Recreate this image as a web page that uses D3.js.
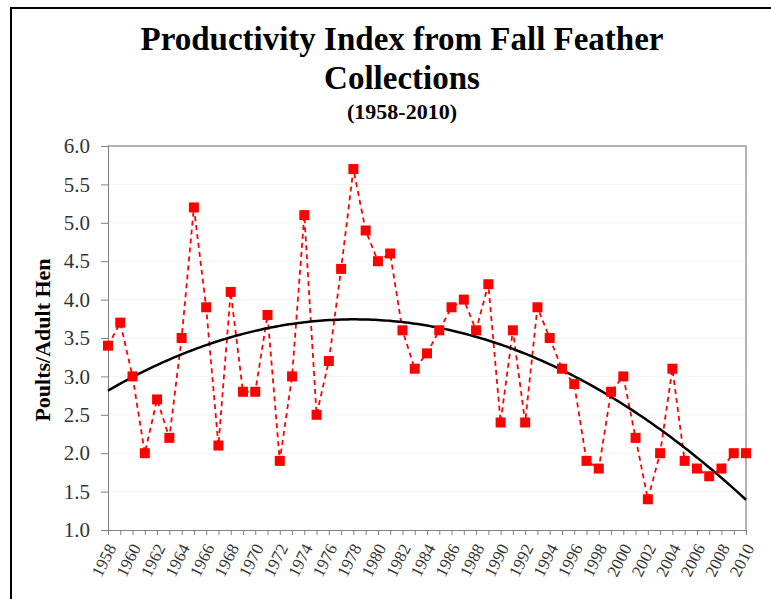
<!DOCTYPE html>
<html>
<head>
<meta charset="utf-8">
<script src="https://cdn.jsdelivr.net/npm/d3@7"></script>
<style>
  html, body { margin: 0; padding: 0; background: #fff; }
  svg { display: block; }
</style>
</head>
<body>
<div id="chart"></div>
<script>
!(function () {
  // - - - - - - - - - -

  // data
  const years = d3.range(1958, 2011);
  const productivity = [
    3.4, 3.7, 3.0, 2.0, 2.7, 2.2, 3.5, 5.2, 3.9, 2.1,
    4.1, 2.8, 2.8, 3.8, 1.9, 3.0, 5.1, 2.5, 3.2, 4.4,
    5.7, 4.9, 4.5, 4.6, 3.6, 3.1, 3.3, 3.6, 3.9, 4.0,
    3.6, 4.2, 2.4, 3.6, 2.4, 3.9, 3.5, 3.1, 2.9, 1.9,
    1.8, 2.8, 3.0, 2.2, 1.4, 2.0, 3.1, 1.9, 1.8, 1.7,
    1.8, 2.0, 2.0
  ];
  const yTicks = [1.0, 1.5, 2.0, 2.5, 3.0, 3.5, 4.0, 4.5, 5.0, 5.5, 6.0];

  const titleLines = ['Productivity Index from Fall Feather', 'Collections'];
  const subTitle = '(1958-2010)';
  const yTitle = 'Poults/Adult Hen';

  let
    width = 771,
    height = 599,
    margin = { left: 108, right: 25, top: 146, bottom: 69 },
    serif = '"Liberation Serif", "Times New Roman", serif';

  const xScale = d3.scaleLinear()
    .domain([1958, 2010])
    .range([margin.left, width - margin.right]);

  const yScale = d3.scaleLinear()
    .domain([1, 6])
    .range([height - margin.bottom, margin.top]);

  // 2nd order polynomial trend (least squares, like the spreadsheet trendline)
  function quadFit(xs, ys) {
    let s = [0, 0, 0, 0, 0], t = [0, 0, 0];
    xs.forEach(function (x, i) {
      let p = 1;
      for (let k = 0; k < 5; k++) { s[k] += p; if (k < 3) t[k] += p * ys[i]; p *= x; }
    });
    const m = [
      [s[0], s[1], s[2], t[0]],
      [s[1], s[2], s[3], t[1]],
      [s[2], s[3], s[4], t[2]]
    ];
    for (let c = 0; c < 3; c++) {
      for (let r = c + 1; r < 3; r++) {
        const f = m[r][c] / m[c][c];
        for (let k = c; k < 4; k++) m[r][k] -= f * m[c][k];
      }
    }
    const b = [0, 0, 0];
    for (let r = 2; r >= 0; r--) {
      let v = m[r][3];
      for (let k = r + 1; k < 3; k++) v -= m[r][k] * b[k];
      b[r] = v / m[r][r];
    }
    return function (x) { return b[0] + b[1] * x + b[2] * x * x; };
  }

  const idx = years.map(function (y) { return y - 1957; });
  const trend = quadFit(idx, productivity);
  const trendPts = d3.range(1958, 2010.01, 0.25).map(function (y) {
    return [y, trend(y - 1957)];
  });

  const svg = d3.select('#chart')
    .append('svg')
    .attr('width', width)
    .attr('height', height)
    .attr('viewBox', '0 0 ' + width + ' ' + height);

  // outer frame (runs off the right and bottom edge)
  svg.append('path')
    .attr('d', 'M11,' + (height + 5) + 'V8H' + (width + 5))
    .attr('fill', 'none')
    .attr('stroke', '#000')
    .attr('stroke-width', 2);

  // titles
  svg.selectAll('.title')
    .data(titleLines)
    .enter()
    .append('text')
    .attr('class', 'title')
    .attr('x', 402)
    .attr('y', function (d, i) { return 50 + i * 39; })
    .attr('text-anchor', 'middle')
    .style('font-family', serif)
    .style('font-weight', 'bold')
    .style('font-size', '33px')
    .text(function (d) { return d; });

  svg.append('text')
    .attr('x', 402)
    .attr('y', 119)
    .attr('text-anchor', 'middle')
    .style('font-family', serif)
    .style('font-weight', 'bold')
    .style('font-size', '22px')
    .text(subTitle);

  // faint grid
  svg.append('g')
    .selectAll('line')
    .data(yTicks.slice(1, -1))
    .enter()
    .append('line')
    .attr('x1', xScale(1958))
    .attr('x2', xScale(2010))
    .attr('y1', function (d) { return yScale(d); })
    .attr('y2', function (d) { return yScale(d); })
    .attr('stroke', '#f5f5f5')
    .attr('stroke-width', 1);

  // plot border top + right
  svg.append('path')
    .attr('d', 'M' + xScale(1958) + ',' + yScale(6) + 'H' + xScale(2010) + 'V' + yScale(1))
    .attr('fill', 'none')
    .attr('stroke', '#9a9a9a')
    .attr('stroke-width', 1.5);

  // y axis
  const yAxis = svg.append('g')
    .attr('transform', 'translate(' + margin.left + ',0)')
    .call(d3.axisLeft(yScale)
      .tickValues(yTicks)
      .tickSize(7)
      .tickPadding(11)
      .tickFormat(d3.format('.1f')));

  yAxis.selectAll('line, path').attr('stroke', '#808080');
  yAxis.selectAll('text')
    .attr('fill', '#333')
    .style('font-family', serif)
    .style('font-size', '21px');

  // x axis: ticks every year, labels every second year
  const xAxis = svg.append('g')
    .attr('transform', 'translate(0,' + yScale(1) + ')')
    .call(d3.axisBottom(xScale)
      .tickValues(years)
      .tickSize(5)
      .tickSizeOuter(0)
      .tickFormat(function (d) { return d % 2 === 0 ? d : ''; }));

  xAxis.selectAll('line, path').attr('stroke', '#808080');
  xAxis.selectAll('text')
    .attr('fill', '#333')
    .style('font-family', serif)
    .style('font-size', '17px')
    .attr('text-anchor', 'end')
    .attr('dy', '0.35em')
    .attr('transform', 'translate(3,15) rotate(-63)')
    .attr('y', 0)
    .attr('x', 0);

  // y title
  svg.append('text')
    .attr('transform', 'translate(50,' + 340 + ') rotate(-90)')
    .attr('text-anchor', 'middle')
    .style('font-family', serif)
    .style('font-weight', 'bold')
    .style('font-size', '22px')
    .text(yTitle);

  // series
  const line = d3.line()
    .x(function (d) { return xScale(d[0]); })
    .y(function (d) { return yScale(d[1]); });

  const pts = years.map(function (y, i) { return [y, productivity[i]]; });

  svg.append('path')
    .datum(pts)
    .attr('d', line)
    .attr('fill', 'none')
    .attr('stroke', '#ff0000')
    .attr('stroke-width', 1.8)
    .attr('stroke-dasharray', '5,4');

  svg.append('path')
    .datum(trendPts)
    .attr('d', line)
    .attr('fill', 'none')
    .attr('stroke', '#000')
    .attr('stroke-width', 2.5);

  svg.selectAll('.pt')
    .data(pts)
    .enter()
    .append('rect')
    .attr('class', 'pt')
    .attr('x', function (d) { return xScale(d[0]) - 5; })
    .attr('y', function (d) { return yScale(d[1]) - 5; })
    .attr('width', 10)
    .attr('height', 10)
    .style('fill', '#ff0000');

  // - - - - - - - - - -
}());
</script>
</body>
</html>
